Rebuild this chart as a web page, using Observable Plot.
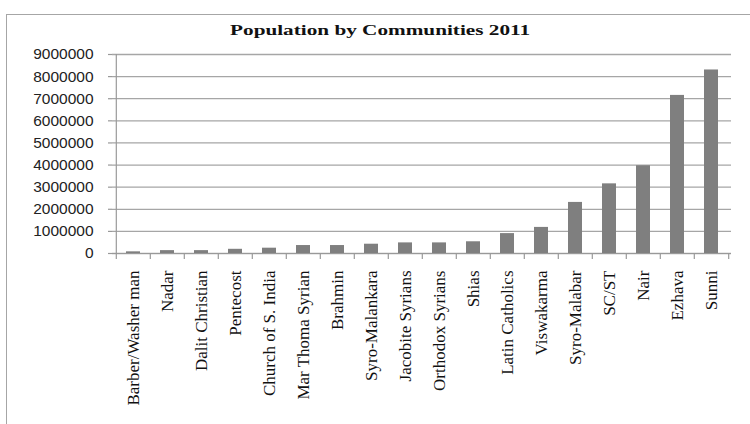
<!DOCTYPE html>
<html>
<head>
<meta charset="utf-8">
<script src="https://cdn.jsdelivr.net/npm/d3@7"></script>
<script src="https://cdn.jsdelivr.net/npm/@observablehq/plot@0.6"></script>
<style>
  html, body { margin: 0; padding: 0; background: #fff; }
  body { width: 750px; height: 424px; overflow: hidden; position: relative; }
  #frame { position: absolute; left: 6px; top: 14px; width: 800px; height: 500px; border: 1px solid #a6a6a6; box-sizing: border-box; pointer-events: none; }
  #title { height: 40px; box-sizing: border-box; padding-top: 23px; padding-left: 10px; text-align: center; font-family: "Liberation Serif", serif; font-weight: bold; font-size: 15px; line-height: 15px; color: #111; white-space: nowrap; }
  #title span { display: inline-block; transform-origin: center; }
  #chart svg { display: block; }
</style>
</head>
<body>
<div id="frame"></div>
<div id="title"><span>Population by Communities 2011</span></div>
<div id="chart"></div>
<script>
const categories = [
  "Barber/Washer man", "Nadar", "Dalit Christian", "Pentecost", "Church of S. India",
  "Mar Thoma Syrian", "Brahmin", "Syro-Malankara", "Jacobite Syrians", "Orthodox Syrians",
  "Shias", "Latin Catholics", "Viswakarma", "Syro-Malabar", "SC/ST", "Nair", "Ezhava", "Sunni"
];
const populations = [
  75000, 130000, 130000, 190000, 240000,
  360000, 360000, 420000, 480000, 480000,
  530000, 900000, 1180000, 2310000, 3150000, 3970000, 7150000, 8300000
];
const yTicks = [0, 1000000, 2000000, 3000000, 4000000, 5000000, 6000000, 7000000, 8000000, 9000000];

const data = categories.map((c, i) => ({community: c, population: populations[i]}));

const W = 750, H = 384, mL = 112, mR = 19, mT = 14, mB = 171;
const pIn = 0.6, pOut = 0.3;
const step = (W - mL - mR) / (categories.length - pIn + 2 * pOut);
const half = step / 2;

const chart = Plot.plot({
  width: W,
  height: H,
  marginTop: mT,
  marginBottom: mB,
  marginLeft: mL,
  marginRight: mR,
  style: {background: "transparent", overflow: "visible"},
  x: {domain: categories, paddingInner: pIn, paddingOuter: pOut, label: null},
  y: {domain: [0, 9000000], label: null},
  marks: [
    Plot.gridY(yTicks, {stroke: "#a6a6a6", strokeOpacity: 1, strokeWidth: 1.3}),
    Plot.axisY(yTicks, {
      tickSize: 4, tickPadding: 15, stroke: "#999", strokeWidth: 1.2,
      tickFormat: d => String(d), fontSize: 15.5, fontFamily: "Liberation Sans, Arial, sans-serif",
      fill: "#222", label: null
    }),
    Plot.barY(data, {x: "community", y: "population", fill: "#7f7f7f"}),
    Plot.ruleX([categories[0]], {y1: 0, y2: 9000000, dx: -half, stroke: "#999", strokeWidth: 1.2}),
    Plot.ruleY([0], {stroke: "#999", strokeWidth: 1.2}),
    Plot.axisX(categories, {tickSize: 6, dx: -half, text: null, stroke: "#999", strokeWidth: 1.2, label: null}),
    Plot.axisX([categories[categories.length - 1]], {tickSize: 6, dx: half, text: null, stroke: "#999", strokeWidth: 1.2, label: null}),
    Plot.axisX(categories, {
      tickSize: 0, tickPadding: 17, tickRotate: -90,
      fontSize: 17, fontFamily: "Liberation Serif, Times New Roman, serif", fill: "#111", label: null
    })
  ]
});
document.getElementById("chart").appendChild(chart);

// stretch the title to the reference width
const span = document.querySelector("#title span");
const w = span.getBoundingClientRect().width;
span.style.transform = `scaleX(${300 / w})`;
</script>
</body>
</html>
